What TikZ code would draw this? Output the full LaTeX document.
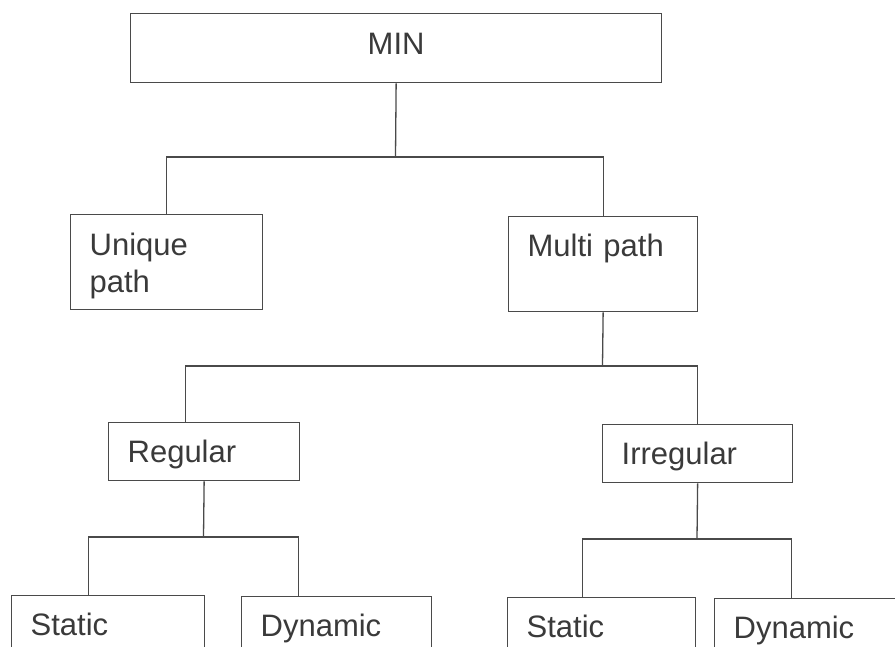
\documentclass[tikz,border=0pt]{standalone}
\usepackage{fontspec}
\setmainfont{Liberation Sans}
\definecolor{linec}{HTML}{4A4A4A}
\definecolor{textc}{HTML}{3A3A3A}
\tikzset{
  box/.style={draw=linec, line width=1.3pt, rectangle, anchor=north west,
    inner xsep=19pt, inner ysep=0pt, align=left, text=textc,
    font=\fontsize{31}{37}\selectfont},
  one/.style={text height=28pt, text depth=6pt},
  conn/.style={draw=linec, line width=1.3pt}
}
\begin{document}
\begin{tikzpicture}[x=1pt,y=-1pt]
\useasboundingbox (0,0) rectangle (895,647);
\clip (0,0) rectangle (895,647);
\fill[white] (0,0) rectangle (895,647);
% boxes
\node[box, align=center, minimum width=531pt, minimum height=69pt, text height=22pt, text depth=10pt] (MIN) at (130,13) {MIN};
\node[box, text width=154pt, minimum width=192pt, minimum height=95pt, text height=22pt, text depth=35pt] (U) at (70,214) {Unique\\path};
\node[box, text width=151pt, minimum width=189pt, minimum height=95pt, text height=22pt, text depth=37pt] (M) at (508,216) {Multi path};
\node[box, one, text width=153pt, minimum width=191pt, minimum height=58pt] (R) at (108,422) {Regular};
\node[box, one, text width=152pt, minimum width=190pt, minimum height=58pt] (I) at (602,424) {Irregular};
\node[box, one, text width=155pt, minimum width=193pt, minimum height=58pt] (S1) at (11,595) {Static};
\node[box, one, text width=152pt, minimum width=190pt, minimum height=58pt] (D1) at (241,596) {Dynamic};
\node[box, one, text width=150pt, minimum width=188pt, minimum height=58pt] (S2) at (507,597) {Static};
\node[box, one, text width=162pt, minimum width=200pt, minimum height=58pt] (D2) at (714,598) {Dynamic};
% junctions
\coordinate (j1) at (395.5,157);
\coordinate (j2) at (602.5,366);
\coordinate (j3) at (203.5,537);
\coordinate (j4) at (697,539);
% connectors
\draw[conn] (MIN.south) -- (j1);
\draw[conn] (U.north) |- (j1) -| (M.north);
\draw[conn] (M.south) -- (j2);
\draw[conn] ([xshift=-18.5pt]R.north) |- (j2) -| (I.north);
\draw[conn] (R.south) -- (j3);
\draw[conn] ([xshift=-19.5pt]S1.north) |- (j3) -| ([xshift=-38pt]D1.north);
\draw[conn] (I.south) -- (j4);
\draw[conn] ([xshift=-19pt]S2.north) |- (j4) -| ([xshift=-23pt]D2.north);
\end{tikzpicture}
\end{document}
